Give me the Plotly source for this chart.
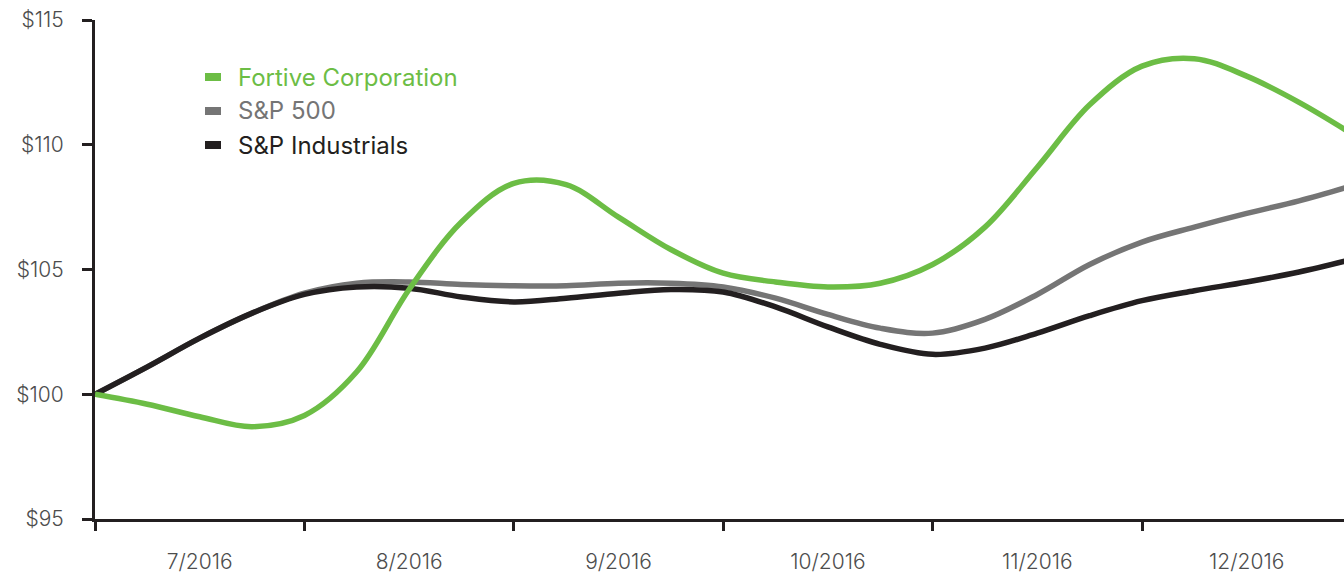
import plotly.graph_objects as go

# x positions in months since 7/2016 (quarter-month steps)
x_pos = [i * 0.25 for i in range(25)]
month_labels = ["7/2016", "8/2016", "9/2016", "10/2016", "11/2016", "12/2016"]
month_label_pos = [0.5, 1.5, 2.5, 3.5, 4.5, 5.5]
month_ticks = [0, 1, 2, 3, 4, 5]

fortive = [100, 99.6, 99.1, 98.7, 99.15, 100.9, 104.2, 106.9, 108.45, 108.4, 107.1, 105.8,
           104.85, 104.5, 104.3, 104.45, 105.2, 106.7, 109.1, 111.6, 113.15, 113.45, 112.75, 111.7, 110.45]
sp500 = [100, 101.1, 102.25, 103.25, 104.05, 104.45, 104.5, 104.4, 104.35, 104.35, 104.45, 104.45,
         104.3, 103.85, 103.2, 102.65, 102.45, 103.0, 104.0, 105.2, 106.1, 106.7, 107.25, 107.75, 108.35]
sp_ind = [100, 101.1, 102.25, 103.25, 104.0, 104.3, 104.25, 103.9, 103.7, 103.85, 104.05, 104.2,
          104.1, 103.5, 102.7, 102.0, 101.6, 101.85, 102.45, 103.15, 103.75, 104.15, 104.5, 104.9, 105.4]

y_ticks = [95, 100, 105, 110, 115]
y_labels = ["$95", "$100", "$105", "$110", "$115"]

names = ["Fortive Corporation", "S&P 500", "S&P Industrials"]
colors = ["#6cbd45", "#757575", "#231f20"]

fig = go.Figure()
# draw order: gray, black, green
fig.add_trace(go.Scatter(x=x_pos, y=sp500, mode="lines", name=names[1],
                         line=dict(color=colors[1], width=5.5, shape="spline", smoothing=1)))
fig.add_trace(go.Scatter(x=x_pos, y=sp_ind, mode="lines", name=names[2],
                         line=dict(color=colors[2], width=5.5, shape="spline", smoothing=1)))
fig.add_trace(go.Scatter(x=x_pos, y=fortive, mode="lines", name=names[0],
                         line=dict(color=colors[0], width=5.5, shape="spline", smoothing=1)))

font_family = "Inter"

# manual legend
leg_y = [77, 111, 145]
for name, col, yy in zip(names, colors, leg_y):
    fig.add_shape(type="rect", xref="paper", yref="paper",
                  x0=(205 - 95) / 1249, x1=(221 - 95) / 1249,
                  y0=(519 - yy - 4) / 499, y1=(519 - yy + 4) / 499,
                  fillcolor=col, line=dict(width=0))
    fig.add_annotation(text=name, xref="paper", yref="paper",
                       x=(236 - 95) / 1249, y=(519 - yy) / 499,
                       xanchor="left", yanchor="middle", showarrow=False,
                       font=dict(family=font_family, size=24, color=col))

fig.update_layout(
    width=1344, height=573,
    margin=dict(l=95, r=0, t=20, b=54),
    paper_bgcolor="white", plot_bgcolor="white",
    showlegend=False,
    xaxis=dict(range=[0, 1249 / 209.4], showgrid=False, zeroline=False, automargin=False,
               showline=True, linecolor="#231f20", linewidth=3,
               tickvals=month_label_pos, ticktext=month_labels, ticks="",
               ticklabelstandoff=22,
               tickfont=dict(family=font_family, size=21, color="#4d4d4d", weight=300),
               minor=dict(tickvals=month_ticks, ticks="outside", ticklen=9, tickwidth=3,
                          tickcolor="#231f20", showgrid=False)),
    yaxis=dict(range=[95, 115], showgrid=False, zeroline=False, automargin=False,
               showline=True, linecolor="#231f20", linewidth=3,
               tickvals=y_ticks, ticktext=y_labels, ticks="outside", ticklen=10,
               tickwidth=3, tickcolor="#231f20", ticklabelstandoff=14,
               tickfont=dict(family=font_family, size=21, color="#4d4d4d", weight=300)),
)

fig.write_html("out.html")
